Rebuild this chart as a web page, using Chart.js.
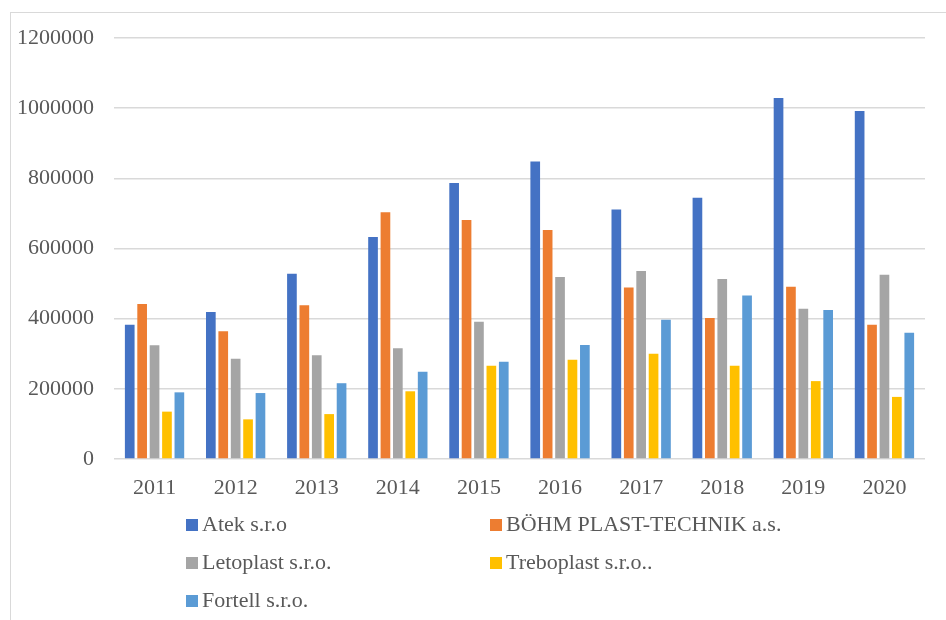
<!DOCTYPE html>
<html>
<head>
<meta charset="utf-8">
<script src="https://cdn.jsdelivr.net/npm/chart.js@4"></script>
<style>
  html, body { margin: 0; padding: 0; background: #fff; }
  #wrap { position: relative; width: 946px; height: 620px; overflow: hidden; }
  #frame { position: absolute; left: 10px; top: 12px; width: 960px; height: 640px; border: 1px solid #d9d9d9; box-sizing: border-box; }
  #c { position: absolute; left: 0; top: 0; }
  #legend { position: absolute; left: 0; top: 0; width: 946px; height: 620px; pointer-events: none;
            font-family: "Liberation Serif", "Times New Roman", serif; font-size: 22px; color: #595959; }
  .item { position: absolute; white-space: nowrap; line-height: 24px; }
  .sw { display: inline-block; width: 12px; height: 12px; margin-right: 4px; vertical-align: 0px; }
</style>
</head>
<body>
<div id="wrap">
  <div id="frame"></div>
  <canvas id="c" width="946" height="620"></canvas>
  <div id="legend"></div>
</div>
<script>
const years = ["2011","2012","2013","2014","2015","2016","2017","2018","2019","2020"];
const seriesNames = ["Atek s.r.o", "BÖHM PLAST-TECHNIK a.s.", "Letoplast s.r.o.", "Treboplast s.r.o..", "Fortell s.r.o."];
const atek      = [383000, 419000, 528000, 633000, 787000, 848000, 711000, 745000, 1029000, 992000];
const bohm      = [442000, 364000, 438000, 703000, 681000, 653000, 489000, 402000, 491000, 383000];
const letoplast = [324000, 286000, 296000, 316000, 391000, 519000, 536000, 513000, 428000, 525000];
const treboplast= [135000, 113000, 128000, 193000, 266000, 283000, 300000, 266000, 222000, 177000];
const fortell   = [190000, 188000, 216000, 249000, 277000, 325000, 397000, 466000, 425000, 360000];
const yTicks = [0, 200000, 400000, 600000, 800000, 1000000, 1200000];
const colors = ["#4472C4", "#ED7D31", "#A5A5A5", "#FFC000", "#5B9BD5"];

const seriesValues = [atek, bohm, letoplast, treboplast, fortell];
const datasets = seriesNames.map((n, i) => ({
  label: n,
  data: seriesValues[i],
  backgroundColor: colors[i],
  borderWidth: 0,
  categoryPercentage: 0.765,
  barPercentage: 0.78
}));

const font = { family: "'Liberation Serif', 'Times New Roman', serif", size: 22 };

const chart = new Chart(document.getElementById('c'), {
  type: 'bar',
  data: { labels: years, datasets },
  options: {
    responsive: false,
    animation: false,
    devicePixelRatio: 1,
    layout: { padding: { top: 38, right: 21, left: 0, bottom: 0 } },
    plugins: { legend: { display: false }, tooltip: { enabled: false } },
    scales: {
      x: {
        grid: { display: false, drawTicks: false },
        border: { display: false },
        ticks: { color: '#595959', font, padding: 16, maxRotation: 0 },
        afterFit: s => { s.height = 161; }
      },
      y: {
        min: 0, max: 1200000,
        afterBuildTicks: s => { s.ticks = yTicks.map(v => ({ value: v })); },
        grid: { color: '#d9d9d9', lineWidth: 1.5, drawTicks: false },
        border: { display: false },
        ticks: { color: '#595959', font, padding: 20, callback: v => String(v) },
        afterFit: s => { s.width = 114; }
      }
    }
  }
});

// HTML legend (two columns, as in the reference)
const leg = document.getElementById('legend');
const pos = [[186, 512], [490, 512], [186, 550], [490, 550], [186, 588]];
chart.data.datasets.forEach((ds, i) => {
  const d = document.createElement('div');
  d.className = 'item';
  d.style.left = pos[i][0] + 'px';
  d.style.top = pos[i][1] + 'px';
  const sw = document.createElement('span');
  sw.className = 'sw';
  sw.style.background = ds.backgroundColor;
  d.appendChild(sw);
  d.appendChild(document.createTextNode(ds.label));
  leg.appendChild(d);
});
</script>
</body>
</html>
